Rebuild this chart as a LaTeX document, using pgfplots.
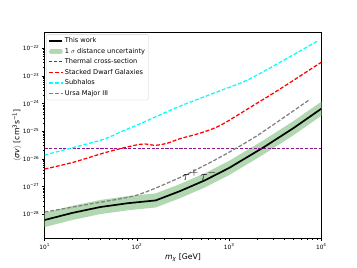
\documentclass[border=0pt]{standalone}
\usepackage{fontspec}
\setmainfont{DejaVu Sans}
\usepackage{pgfplots}
\pgfplotsset{compat=1.18}
\definecolor{bandgreen}{RGB}{178,216,178}
\definecolor{mplpurple}{RGB}{140,20,140}
\definecolor{mplgray}{RGB}{128,128,128}
\definecolor{mplcyan}{RGB}{0,255,255}
\definecolor{mplred}{RGB}{255,0,0}
\begin{document}
\begin{tikzpicture}
\path[use as bounding box] (0,0) rectangle (460.8pt,345.6pt);
\begin{axis}[
  at={(57.6pt,38.0pt)}, anchor=south west,
  scale only axis, width=357.1pt, height=266.1pt,
  xmode=log, ymode=log,
  xmin=10, xmax=10000, ymin=1.35e-29, ymax=3.8e-22,
  tick align=outside, tick pos=left,
  major tick length=3.5pt, minor tick length=2pt,
  every major tick/.append style={line width=0.8pt, black},
  every minor tick/.append style={line width=0.6pt, black},
  axis line style={line width=0.8pt},
  xtick={10,100,1000,10000},
  xticklabels={10\textsuperscript{1},10\textsuperscript{2},10\textsuperscript{3},10\textsuperscript{4}},
  ytick={1e-28,1e-27,1e-26,1e-25,1e-24,1e-23,1e-22},
  yticklabels={10\textsuperscript{−28},10\textsuperscript{−27},10\textsuperscript{−26},10\textsuperscript{−25},10\textsuperscript{−24},10\textsuperscript{−23},10\textsuperscript{−22}},
  ticklabel style={font=\fontsize{7.5}{8}\selectfont},
  xlabel={\textit{m}\textsubscript{\textit{χ}} [GeV]},
  ylabel={$\langle$\textit{σv}$\rangle$ [cm\textsuperscript{3}s\textsuperscript{−1}]},
  label style={font=\fontsize{10}{12}\selectfont},
  every axis x label/.style={at={(axis description cs:0.5,-0.092)}, anchor=center},
  every axis y label/.style={at={(axis description cs:-0.1,0.5)}, rotate=90, anchor=center},
  legend style={at={(0.006,0.99)}, anchor=north west, font=\fontsize{8.5}{10}\selectfont,
    draw=black!20, rounded corners=2pt, inner sep=2.5pt, row sep=1.6pt, fill=white},
  legend cell align=left,
]
% band (drawn first, no legend here)
\addplot[fill=bandgreen, draw=none, forget plot] coordinates {
(10,1.12e-28) (20,2.02e-28) (40,3.28e-28) (80,4.52e-28) (160,5.69e-28)
(295,1.24e-27) (550,3.06e-27) (1000,8.5e-27) (2360,4.7e-26) (5000,2.34e-25) (10000,1.17e-24)
(10000,3.6e-25) (5000,7.2e-26) (2360,1.44e-26) (1000,2.6e-27) (550,9.4e-28) (295,3.83e-28)
(160,1.76e-28) (80,1.39e-28) (40,1.01e-28) (20,6.2e-29) (10,3.44e-29)} -- cycle;
% this work
\addplot[color=black, line width=2.2pt] coordinates {
(10,6.2e-29) (20,1.12e-28) (40,1.82e-28) (80,2.51e-28) (160,3.16e-28)
(295,6.9e-28) (550,1.7e-27) (1000,4.7e-27) (2360,2.6e-26) (5000,1.3e-25) (10000,6.5e-25)};
\addlegendentry{This work}
\addlegendimage{area legend, fill=bandgreen, draw=bandgreen}
\addlegendentry{1 $\sigma$ distance uncertainty}
% thermal
\addplot[color=mplpurple, line width=1.4pt, dash pattern=on 4pt off 2pt] coordinates {(10,2.4e-26) (10000,2.4e-26)};
\addlegendentry{Thermal cross-section}
% stacked dwarfs
\addplot[color=mplred, line width=1.6pt, dash pattern=on 5pt off 2.4pt, smooth, tension=0.5] coordinates {
(10,4.3e-27) (20.6,7.6e-27) (48,1.78e-26) (110,3.4e-26) (158,3.1e-26) (214,3.7e-26) (295,5.4e-26)
(420,7.4e-26) (600,1.08e-25) (850,1.8e-25) (1830,8.5e-25) (3540,3.3e-24) (10000,3.1e-23)};
\addlegendentry{Stacked Dwarf Galaxies}
% subhalos
\addplot[color=mplcyan, line width=1.6pt, dash pattern=on 5pt off 2.4pt, smooth, tension=0.5] coordinates {
(10,1.38e-26) (20.6,2.6e-26) (43.6,5.1e-26) (66,9.3e-26) (110,1.9e-25) (295,8.1e-25)
(800,2.9e-24) (1570,7.0e-24) (3580,3.1e-23) (9000,1.78e-22)};
\addlegendentry{Subhalos}
% Ursa Major III
\addplot[color=mplgray, line width=1.6pt, dash pattern=on 5pt off 2.4pt, smooth, tension=0.4] coordinates {
(10,1.2e-28) (30,2.3e-28) (100,4.9e-28) (300,2.2e-27) (800,1.15e-26) (2000,6.8e-26) (7500,1.4e-24)};
\addlegendentry{Ursa Major III}
\node[font=\fontsize{19}{19}\selectfont, inner sep=0pt] at (axis cs:480,2.7e-27) {$\tau^{+}$\hspace{2pt}$\tau^{-}$};
\end{axis}
\end{tikzpicture}
\end{document}
